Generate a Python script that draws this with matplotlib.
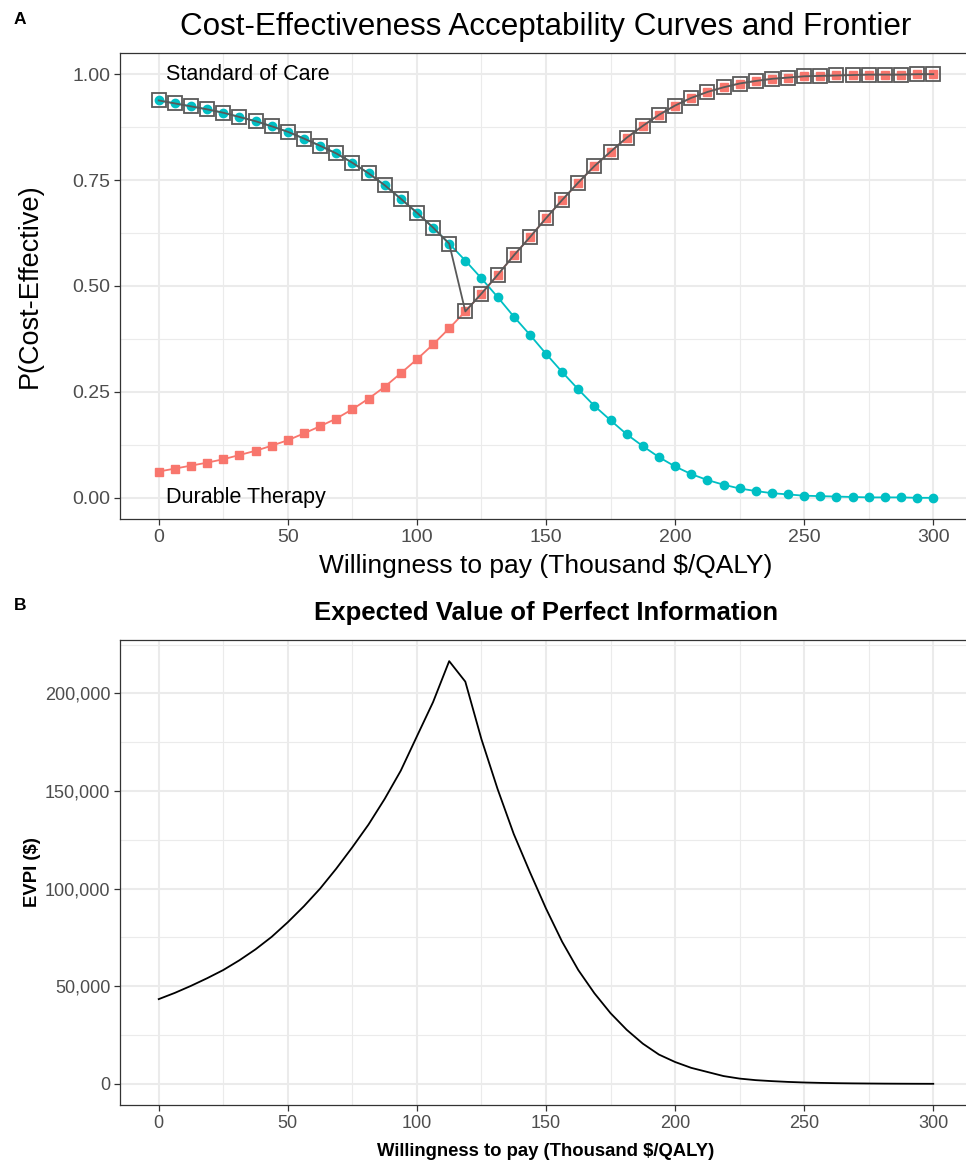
import numpy as np
import matplotlib
matplotlib.use("Agg")
import matplotlib.pyplot as plt
from matplotlib.ticker import MultipleLocator, FuncFormatter

plt.rcParams['font.family'] = ['Liberation Sans', 'DejaVu Sans']

# ---------------- data ----------------
wtp = [0, 6.25, 12.5, 18.75, 25, 31.25, 37.5, 43.75, 50, 56.25, 62.5, 68.75,
       75, 81.25, 87.5, 93.75, 100, 106.25, 112.5, 118.75, 125, 131.25, 137.5,
       143.75, 150, 156.25, 162.5, 168.75, 175, 181.25, 187.5, 193.75, 200,
       206.25, 212.5, 218.75, 225, 231.25, 237.5, 243.75, 250, 256.25, 262.5,
       268.75, 275, 281.25, 287.5, 293.75, 300]

p_standard = [0.938, 0.931, 0.924, 0.917, 0.909, 0.899, 0.889, 0.877, 0.864,
              0.848, 0.831, 0.813, 0.791, 0.766, 0.738, 0.706, 0.673, 0.638,
              0.600, 0.560, 0.518, 0.474, 0.428, 0.385, 0.340, 0.297, 0.256,
              0.217, 0.183, 0.150, 0.122, 0.096, 0.074, 0.056, 0.042, 0.031,
              0.022, 0.016, 0.011, 0.008, 0.005, 0.004, 0.003, 0.002, 0.001,
              0.001, 0.001, 0.000, 0.000]

p_durable = [0.062, 0.069, 0.076, 0.083, 0.091, 0.101, 0.111, 0.123, 0.136,
             0.152, 0.169, 0.187, 0.209, 0.234, 0.262, 0.294, 0.327, 0.362,
             0.400, 0.440, 0.482, 0.526, 0.572, 0.615, 0.660, 0.703, 0.744,
             0.783, 0.817, 0.850, 0.878, 0.904, 0.926, 0.944, 0.958, 0.969,
             0.978, 0.984, 0.989, 0.992, 0.995, 0.996, 0.997, 0.998, 0.999,
             0.999, 0.999, 1.000, 1.000]

# WTP (thousand $/QALY) at which the optimal strategy switches to Durable Therapy
frontier_switch_wtp = 118.75

evpi = [43400, 46600, 50200, 54100, 58300, 63300, 68900, 75300, 82800, 91000,
        100000, 110200, 121200, 132800, 145900, 160400, 178000, 195500, 216500,
        206000, 176500, 151000, 128000, 108500, 89800, 72800, 58300, 46400,
        36200, 27700, 20600, 15000, 11200, 8200, 6100, 4000, 2700, 1900, 1400,
        1000, 700, 500, 350, 250, 180, 120, 80, 50, 30]

x_ticks = [0, 50, 100, 150, 200, 250, 300]
title_a = "Cost-Effectiveness Acceptability Curves and Frontier"
title_b = "Expected Value of Perfect Information"
xlabel = "Willingness to pay (Thousand $/QALY)"

# ---------------- styling ----------------
CYAN = "#00BFC4"
RED = "#F8766D"
FRONT = "#595959"
GRID = "#EBEBEB"
TICKC = "#4D4D4D"
BORDER = "#333333"

W, H = 966, 1160
fig = plt.figure(figsize=(W / 100, H / 100), dpi=100)

def style_axes(ax):
    ax.set_facecolor("white")
    for s in ax.spines.values():
        s.set_color(BORDER)
        s.set_linewidth(0.9)
    ax.set_axisbelow(True)
    ax.grid(which="major", color=GRID, linewidth=1.5)
    ax.grid(which="minor", color=GRID, linewidth=0.8)
    ax.tick_params(which="major", length=4, width=0.9, color=BORDER)
    ax.tick_params(which="minor", length=0)
    ax.set_xlim(-15, 315)
    ax.set_xticks(x_ticks)
    ax.xaxis.set_minor_locator(MultipleLocator(25))

x = np.array(wtp)
ps = np.array(p_standard)
pd_ = np.array(p_durable)
front = np.where(x < frontier_switch_wtp, ps, pd_)

# ---------------- Panel A ----------------
axA = fig.add_axes([120 / W, 1 - 519 / H, 852 / W, 466 / H])
style_axes(axA)
axA.set_ylim(-0.05, 1.05)
axA.set_yticks([0, 0.25, 0.5, 0.75, 1.0])
axA.yaxis.set_minor_locator(MultipleLocator(0.125))
axA.yaxis.set_major_formatter(FuncFormatter(lambda v, p: f"{v:.2f}"))
axA.tick_params(axis="both", which="major", labelsize=14, labelcolor=TICKC, pad=3)

axA.plot(x, ps, color=CYAN, lw=1.3, marker="o", ms=6, mec=CYAN, mfc=CYAN, zorder=3)
axA.plot(x, pd_, color=RED, lw=1.3, marker="s", ms=6, mec=RED, mfc=RED, zorder=3)
axA.plot(x, front, color=FRONT, lw=1.3, marker="s", ms=10, mfc="none",
         mec=FRONT, mew=1.3, zorder=4)

axA.text(3, 1.0, "Standard of Care", fontsize=15.5, ha="left", va="center", color="black")
axA.text(3, 0.0, "Durable Therapy", fontsize=15.5, ha="left", va="center", color="black")

axA.set_xlabel(xlabel, fontsize=19, labelpad=6)
axA.set_ylabel("P(Cost-Effective)", fontsize=19.5, labelpad=21)
fig.text(0.5 * (120 + 972) / W, 1 - 27 / H, title_a, fontsize=22.6, ha="center", va="center")
fig.text(14 / W, 1 - 20 / H, "A", fontsize=12.5, fontweight="bold", ha="left", va="center")

# ---------------- Panel B ----------------
axB = fig.add_axes([120 / W, 1 - 1105 / H, 852 / W, 465 / H])
style_axes(axB)
axB.set_ylim(-10825, 227325)
axB.set_yticks([0, 50000, 100000, 150000, 200000])
axB.yaxis.set_minor_locator(MultipleLocator(25000))
axB.yaxis.set_major_formatter(FuncFormatter(lambda v, p: f"{int(v):,}"))
axB.tick_params(axis="both", which="major", labelsize=13, labelcolor=TICKC, pad=3)

axB.plot(x, evpi, color="black", lw=1.3, zorder=3)

axB.set_xlabel(xlabel, fontsize=13.3, fontweight="bold", labelpad=8)
axB.set_ylabel("EVPI ($)", fontsize=13.3, fontweight="bold", labelpad=3)
fig.text(0.5 * (120 + 972) / W, 1 - 613 / H, title_b, fontsize=18.5,
         fontweight="bold", ha="center", va="center")
fig.text(14 / W, 1 - 605 / H, "B", fontsize=12.5, fontweight="bold", ha="left", va="center")

fig.savefig("out.png", dpi=100, facecolor="white")
